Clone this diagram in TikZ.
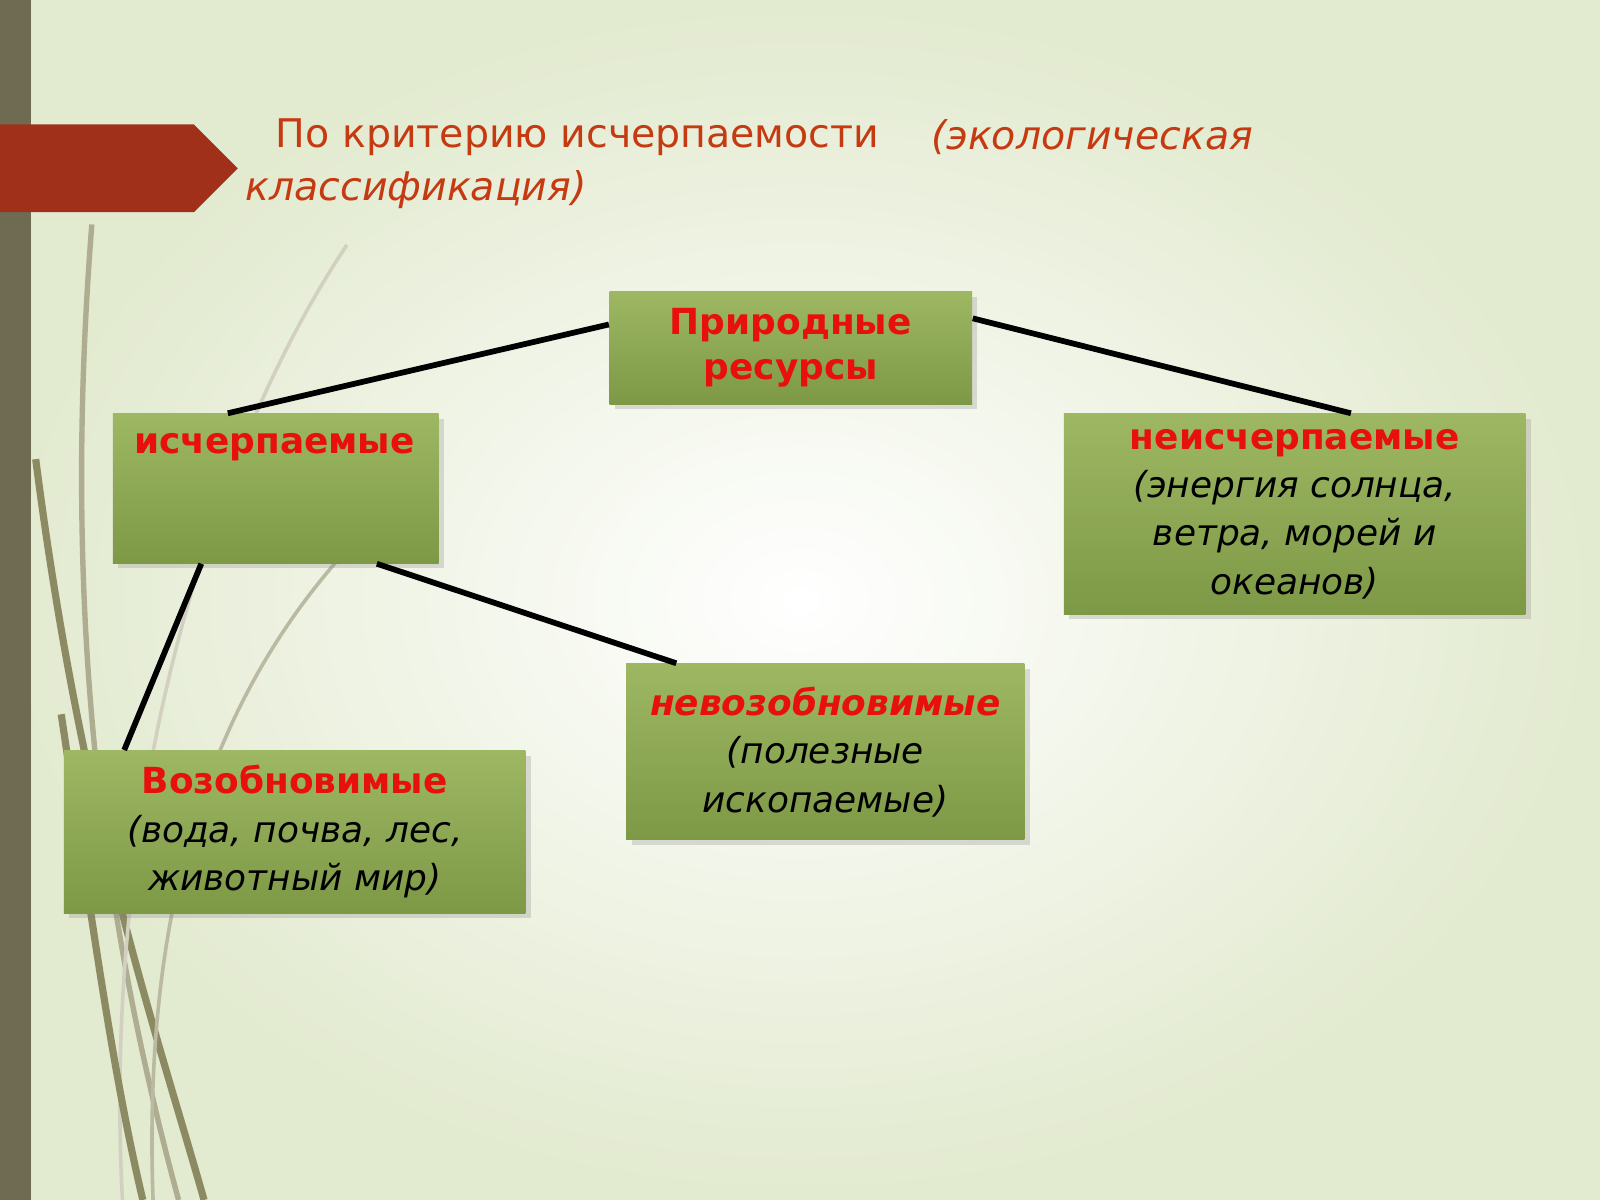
\documentclass[tikz,border=0pt]{standalone}
\usepackage{fontspec}
\setmainfont{DejaVu Sans}
\usetikzlibrary{positioning,shadows,calc}
\definecolor{boxtop}{HTML}{9DB763}
\definecolor{boxbot}{HTML}{7E9946}
\definecolor{textred}{HTML}{E8100C}
\definecolor{banner}{HTML}{A0301A}
\definecolor{barbrown}{HTML}{6F6B53}
\definecolor{titlered}{HTML}{C63A12}
\definecolor{grass}{HTML}{8C8A63}
\definecolor{bgout}{HTML}{E2EACF}
\tikzset{
  resbox/.style = {rectangle, top color=boxtop, bottom color=boxbot,
    draw=none, align=center, inner sep=0pt, font=\fontsize{10}{13.5}\selectfont,
    drop shadow={shadow xshift=1.5pt, shadow yshift=-1.5pt, opacity=.25}},
  link/.style = {line width=1.6pt, black},
  titletext/.style = {anchor=west, text=titlered, font=\fontsize{11}{14}\selectfont}
}
\begin{document}
\begin{tikzpicture}[x=0.01cm, y=-0.01cm]
  % background
  \shade[inner color=white, outer color=bgout] (0,0) rectangle (1568,1176);
  \useasboundingbox (0,0) rectangle (1568,1176);
  \fill[barbrown] (0,0) rectangle (30,1176);
  % grass
  \draw[grass, line width=2pt] (35,450) .. controls (80,800) and (150,1000) .. (200,1176);
  \draw[grass!70, line width=1.5pt] (90,220) .. controls (60,600) and (100,900) .. (175,1176);
  \draw[grass!60, line width=1pt] (330,550) .. controls (200,700) and (140,900) .. (150,1176);
  \draw[grass!40, line width=1pt] (340,240) .. controls (200,450) and (100,800) .. (120,1176);
  \draw[grass, line width=2pt] (60,700) .. controls (90,900) and (110,1050) .. (140,1176);
  % title
  \fill[banner] (0,122) -- (190,122) -- (233,165) -- (190,208) -- (0,208) -- cycle;
  \node[titletext] (title1) at (258,134) {По критерию исчерпаемости};
  \node[titletext, font=\fontsize{11}{14}\selectfont\itshape] (title2) at (900,134) {(экологическая};
  \node[titletext, font=\fontsize{11}{14}\selectfont\itshape] (title3) at (228,186) {классификация)};
  % boxes
  \node[resbox, minimum width=3.55cm, minimum height=1.10cm] (res) at (775,341)
    {\textcolor{textred}{\bfseries Природные}\\[-1pt]\textcolor{textred}{\bfseries ресурсы}};
  \node[resbox, minimum width=3.19cm, minimum height=1.46cm, anchor=north west] (exh) at (110,405) {};
  \node[text=textred, font=\fontsize{10}{13.5}\selectfont\bfseries] (exhlbl) at (269,438) {исчерпаемые};
  \node[resbox, minimum width=4.52cm, minimum height=1.96cm, anchor=north west] (inexh) at (1042,405)
    {\textcolor{textred}{\bfseries неисчерпаемые}\\\itshape (энергия солнца,\\\itshape ветра, морей и\\\itshape океанов)};
  \node[resbox, minimum width=4.52cm, minimum height=1.59cm, anchor=north west] (renew) at (62,735)
    {\textcolor{textred}{\bfseries Возобновимые}\\\itshape (вода, почва, лес,\\\itshape животный мир)};
  \node[resbox, minimum width=3.90cm, minimum height=1.72cm, anchor=north west] (nonrenew) at (613,650)
    {\textcolor{textred}{\bfseries\itshape невозобновимые}\\\itshape (полезные\\\itshape ископаемые)};
  % links
  \draw[link] ([yshift=0.23cm]res.west) -- ([xshift=-0.47cm]exh.north);
  \draw[link] ([yshift=0.29cm]res.east) -- ([xshift=0.55cm]inexh.north);
  \draw[link] ([xshift=-0.73cm]exh.south) -- ([xshift=-1.67cm]renew.north);
  \draw[link] ([xshift=0.99cm]exh.south) -- ([xshift=-1.46cm]nonrenew.north);
\end{tikzpicture}
\end{document}
